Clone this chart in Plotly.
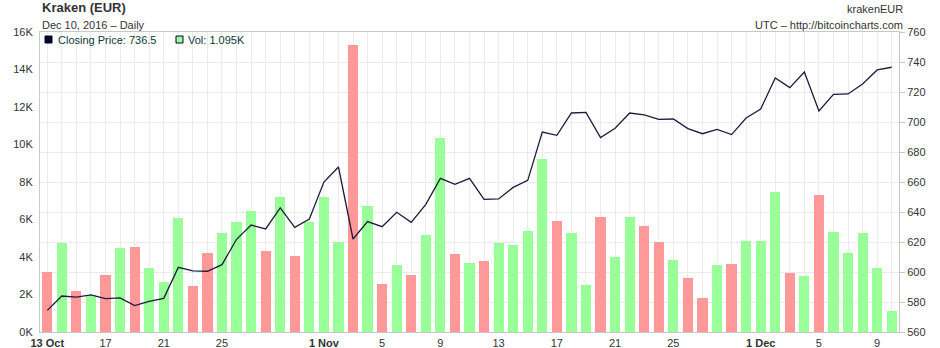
import pandas as pd
import plotly.graph_objects as go

# ---- data ----
dates = pd.date_range("2016-10-13", "2016-12-10", freq="D")

close_price = [
    574.4, 584.0, 583.3, 584.7, 582.2, 582.7, 577.6, 580.4, 582.4, 603.1,
    600.7, 600.5, 604.9, 621.8, 631.3, 628.7, 642.7, 629.8, 635.3, 660.0,
    670.0, 622.0, 633.6, 630.2, 639.8, 633.1, 645.1, 662.4, 658.4, 662.4,
    648.4, 648.7, 656.4, 661.1, 693.3, 691.1, 706.0, 706.4, 689.6, 695.8,
    706.0, 704.7, 701.8, 702.0, 695.6, 692.2, 695.1, 691.6, 702.7, 708.7,
    729.3, 722.9, 733.3, 707.3, 718.4, 718.7, 725.3, 734.7, 736.5,
]

volume = [
    3220, 4760, 2210, 1980, 3060, 4500, 4550, 3430, 2690, 6090,
    2480, 4230, 5290, 5880, 6460, 4340, 7200, 4070, 5880, 7200,
    4810, 15330, 6730, 2580, 3590, 3060, 5190, 10340, 4180, 3700,
    3800, 4760, 4650, 5400, 9220, 5930, 5290, 2530, 6140, 4020,
    6140, 5660, 4810, 3860, 2900, 1840, 3590, 3650, 4870, 4870,
    7470, 3170, 3010, 7310, 5350, 4230, 5290, 3430, 1095,
]

tick_dates = ["2016-10-13", "2016-10-17", "2016-10-21", "2016-10-25", "2016-11-01",
              "2016-11-05", "2016-11-09", "2016-11-13", "2016-11-17", "2016-11-21",
              "2016-11-25", "2016-12-01", "2016-12-05", "2016-12-09"]
tick_text = ["<b>13 Oct</b>", "17", "21", "25", "<b>1 Nov</b>", "5", "9", "13", "17",
             "21", "25", "<b>1 Dec</b>", "5", "9"]

vol_ticks = [0, 2000, 4000, 6000, 8000, 10000, 12000, 14000, 16000]
vol_tick_text = ["0K", "2K", "4K", "6K", "8K", "10K", "12K", "14K", "16K"]

# ---- styling ----
UP = "#99ff99"
DOWN = "#ff9999"
LINE = "#1c1c3c"
FONT = "Liberation Sans, Arial, sans-serif"
TXT = "#333333"
GRID = "#ebebeb"
AXIS = "#c8c8c8"

bar_colors = [DOWN] + [UP if close_price[i] > close_price[i - 1] else DOWN
                       for i in range(1, len(close_price))]

fig = go.Figure()
fig.add_trace(go.Bar(
    x=dates, y=volume, marker=dict(color=bar_colors, line=dict(width=0)),
    width=0.7 * 86400000, yaxis="y", showlegend=False, hoverinfo="skip",
))
fig.add_trace(go.Scatter(
    x=dates, y=close_price, mode="lines", line=dict(color=LINE, width=1.3),
    yaxis="y2", showlegend=False, hoverinfo="skip",
))

W, H = 940, 348
L, R, T, B = 40, 41, 32, 16
pw, ph = W - L - R, H - T - B


def px(x):
    return (x - L) / pw


def py(y):
    return (H - B - y) / ph


fig.update_layout(
    width=W, height=H,
    margin=dict(l=L, r=R, t=T, b=B, pad=0, autoexpand=False),
    paper_bgcolor="white", plot_bgcolor="white",
    font=dict(family=FONT, size=11, color=TXT),
    bargap=0,
    xaxis=dict(
        type="date", automargin=False,
        range=[dates[0] - pd.Timedelta(hours=12), dates[-1] + pd.Timedelta(hours=12)],
        tickmode="array", tickvals=tick_dates, ticktext=tick_text,
        showgrid=True, gridcolor=GRID, gridwidth=1,
        minor=dict(dtick=86400000, tick0="2016-10-13", showgrid=True,
                   gridcolor=GRID, gridwidth=1, ticks=""),
        showline=True, linecolor=AXIS, linewidth=1, mirror=True,
        ticks="", ticklabelstandoff=1, tickfont=dict(size=11, color=TXT), zeroline=False,
    ),
    yaxis=dict(
        range=[0, 16000], tickmode="array", tickvals=vol_ticks, ticktext=vol_tick_text,
        automargin=False,
        showgrid=False, zeroline=False, showline=True, linecolor=AXIS, linewidth=1,
        ticks="", ticklabelstandoff=4, tickfont=dict(size=11, color=TXT),
    ),
    yaxis2=dict(
        range=[560, 760], dtick=20, overlaying="y", side="right", automargin=False,
        showgrid=True, gridcolor=GRID, gridwidth=1, zeroline=False,
        showline=True, linecolor=AXIS, linewidth=1,
        ticks="outside", ticklen=5, tickcolor=AXIS,
        tickfont=dict(size=11, color=TXT),
    ),
    showlegend=False,
)

annotations = [
    dict(text="<b>Kraken (EUR)</b>", x=px(40), y=py(8), font=dict(size=13, color="#333333")),
    dict(text="Dec 10, 2016 – Daily", x=px(40), y=py(25), font=dict(size=11, color="#333333")),
    dict(text="krakenEUR", x=px(905), y=py(9), xanchor="right", font=dict(size=11, color="#333333")),
    dict(text="UTC – http://bitcoincharts.com", x=px(905), y=py(25), xanchor="right",
         font=dict(size=11, color="#333333")),
    dict(text=f"Closing Price: {close_price[-1]}", x=px(56), y=py(40),
         font=dict(size=11, color="#0a3a3a")),
    dict(text=f"Vol: {volume[-1] / 1000:.3f}K", x=px(186), y=py(40),
         font=dict(size=11, color="#0a3a3a")),
]
for a in annotations:
    a.setdefault("xanchor", "left")
    fig.add_annotation(xref="paper", yref="paper", yanchor="middle", showarrow=False, **a)

fig.add_shape(type="rect", xref="paper", yref="paper",
              x0=px(45), x1=px(52), y0=py(43), y1=py(36),
              fillcolor="#000033", line=dict(color="#000033", width=1))
fig.add_shape(type="rect", xref="paper", yref="paper",
              x0=px(176), x1=px(183), y0=py(43), y1=py(36),
              fillcolor=UP, line=dict(color="#000033", width=1))

fig.write_html("out.html")
